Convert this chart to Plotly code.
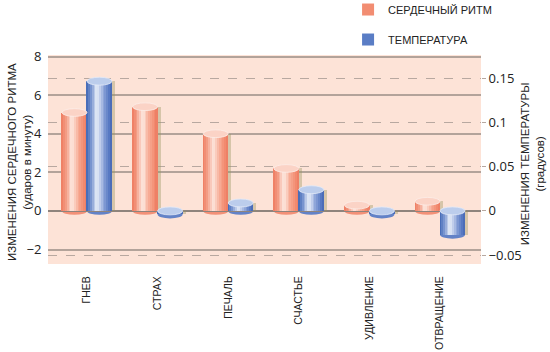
import plotly.graph_objects as go

# ---- data ----
categories = ["ГНЕВ", "СТРАХ", "ПЕЧАЛЬ", "СЧАСТЬЕ", "УДИВЛЕНИЕ", "ОТВРАЩЕНИЕ"]
heart_rate = [5.1, 5.4, 4.0, 2.2, 0.3, 0.5]            # ударов в минуту
temperature = [0.147, -0.004, 0.009, 0.024, -0.004, -0.027]  # градусов
left_ticks = [-2, 0, 2, 4, 6, 8]
right_ticks = [-0.05, 0, 0.05, 0.1, 0.15]
right_tick_text = ["\u22120.05", "0", "0.05", "0.1", "0.15"]
left_tick_text = ["\u22122", "0", "2", "4", "6", "8"]

# ---- style ----
BG = "#fde3d7"
BW = 0.354          # bar width in category units
N_STRIPES = 14
RED_STOPS = [(0, "#ee7a5f"), (0.18, "#f39c84"), (0.42, "#fde9e1"),
             (0.66, "#f7ad97"), (0.9, "#f2896e"), (1, "#ec7b61")]
BLUE_STOPS = [(0, "#3d64b3"), (0.18, "#7894cf"), (0.42, "#e8eef9"),
              (0.66, "#94aadb"), (0.9, "#5677c2"), (1, "#4768b2")]


def hex2rgb(h):
    h = h.lstrip("#")
    return tuple(int(h[i:i + 2], 16) for i in (0, 2, 4))


def grad(stops, t):
    for (t0, c0), (t1, c1) in zip(stops[:-1], stops[1:]):
        if t0 <= t <= t1:
            a = (t - t0) / (t1 - t0)
            r0, r1 = hex2rgb(c0), hex2rgb(c1)
            return "rgb(%d,%d,%d)" % tuple(round(r0[i] + (r1[i] - r0[i]) * a) for i in range(3))
    return stops[-1][1]


fig = go.Figure()
series = [
    ("СЕРДЕЧНЫЙ РИТМ", heart_rate, "y", -BW, RED_STOPS, "#f28d72", "#fbd3c6", "#fdeee8", 0.2),
    ("ТЕМПЕРАТУРА", temperature, "y2", 0.0, BLUE_STOPS, "#5a7dc5", "#bccdec", "#e4ebf8", 0.0045),
]

shapes = []
for name, vals, yax, off, stops, base, capc, capl, half in series:
    # soft shadow to the right
    fig.add_trace(go.Bar(x=categories, y=vals, yaxis=yax, offset=off + 0.045, width=BW,
                         marker=dict(color="rgba(150,150,95,0.38)", line=dict(width=0)),
                         showlegend=False, hoverinfo="skip"))
    # base body (legend entry)
    fig.add_trace(go.Bar(x=categories, y=vals, yaxis=yax, offset=off, width=BW, name=name,
                         legendgroup=name,
                         marker=dict(color=base, line=dict(width=0))))
    # cylinder shading stripes
    for k in range(N_STRIPES):
        t = (k + 0.5) / N_STRIPES
        fig.add_trace(go.Bar(x=categories, y=vals, yaxis=yax,
                             offset=off + k * BW / N_STRIPES, width=BW / N_STRIPES * 1.05,
                             marker=dict(color=grad(stops, t), line=dict(width=0)),
                             showlegend=False, hoverinfo="skip", legendgroup=name))
    yref = "y" if yax == "y" else "y2"
    for i, v in enumerate(vals):
        x0, x1 = i + off, i + off + BW
        top = max(v, 0)
        bot = min(v, 0)
        # rounded bottom
        shapes.append(dict(type="circle", xref="x", yref=yref, layer="below",
                           x0=x0, x1=x1, y0=bot - half, y1=bot + half,
                           fillcolor=grad(stops, 0.85), line=dict(width=0)))
        # top cap
        shapes.append(dict(type="circle", xref="x", yref=yref, layer="above",
                           x0=x0, x1=x1, y0=top - half, y1=top + half,
                           fillcolor=capc, line=dict(color=capl, width=0.8)))

FONT = "Liberation Sans, Arial, sans-serif"
TICKFONT = "Open Sans, Liberation Sans, sans-serif"

fig.update_layout(
    width=550, height=352,
    margin=dict(l=48, r=69, t=55, b=88, autoexpand=False),
    paper_bgcolor="white", plot_bgcolor=BG,
    barmode="overlay", bargap=0,
    shapes=shapes,
    showlegend=True,
    legend=dict(x=0.693, y=1.287, xanchor="left", yanchor="top",
                font=dict(family=FONT, size=11, color="#222"),
                bgcolor="rgba(0,0,0,0)", tracegroupgap=11, itemwidth=30),
    xaxis=dict(type="category", categoryorder="array", categoryarray=categories,
               range=[-0.552, 5.58], showgrid=False, zeroline=False, showline=False,
               automargin=False,
               tickangle=-90, ticks="outside", ticklen=7, tickcolor="rgba(0,0,0,0)",
               tickfont=dict(family=FONT, size=10.5, color="#222")),
    yaxis=dict(range=[-2.751, 8.08], tickvals=left_ticks, ticktext=left_tick_text,
               showgrid=True, gridcolor="#b3a39a", gridwidth=1.8, automargin=False,
               zeroline=True, zerolinecolor="#8f847d", zerolinewidth=1.6,
               showline=False, ticks="outside", ticklen=3, tickcolor="rgba(0,0,0,0)",
               tickfont=dict(family=TICKFONT, size=13, color="#222")),
    yaxis2=dict(range=[-0.0602, 0.1767], overlaying="y", side="right",
                tickvals=right_ticks, ticktext=right_tick_text, automargin=False,
                showgrid=True, gridcolor="#b8a8a0", gridwidth=1, griddash="dash",
                zeroline=False, showline=False, ticks="outside", ticklen=4,
                tickcolor="#b8a8a0",
                tickfont=dict(family=TICKFONT, size=13, color="#222")),
    annotations=[
        dict(text="ИЗМЕНЕНИЯ СЕРДЕЧНОГО РИТМА<br>(ударов в минуту)", textangle=-90,
             xref="paper", yref="paper", x=-0.066, y=0.49, xanchor="center", yanchor="middle",
             showarrow=False, font=dict(family=FONT, size=11.5, color="#222")),
        dict(text="ИЗМЕНЕНИЯ ТЕМПЕРАТУРЫ<br>(градусов)", textangle=-90,
             xref="paper", yref="paper", x=1.119, y=0.48, xanchor="center", yanchor="middle",
             showarrow=False, font=dict(family=FONT, size=11.5, color="#222")),
    ],
)

fig.write_html("out.html")
